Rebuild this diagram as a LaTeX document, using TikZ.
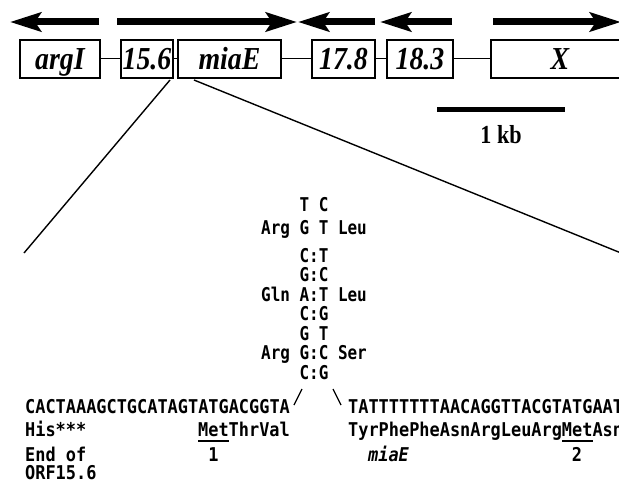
\documentclass[tikz,border=0pt]{standalone}
\usepackage{fontspec}
\usepackage{graphicx}
\setmainfont{Liberation Serif}
\newfontfamily\seqfont{DejaVu Sans Mono}
\usetikzlibrary{arrows.meta}
\newcommand\genefont{\fontsize{32}{32}\selectfont\bfseries\itshape}
\newcommand\glabel[1]{\scalebox{0.87}[1]{#1}}
\newcommand\sq[1]{\scalebox{0.89}[1]{#1}}
\newcommand\st[1]{\scalebox{0.84}[1]{#1}}
\begin{document}
\begin{tikzpicture}[x=1pt,y=-1pt,
  genebox/.style={draw, line width=1.3pt, minimum height=38pt, inner sep=0pt,
                  text height=24pt, text depth=2pt, font=\genefont},
  link/.style={line width=1pt},
  orf/.style={line width=7pt, -{Stealth[length=31pt,width=19pt,inset=6pt]}},
  zoomline/.style={line width=1.4pt},
  seqtxt/.style={anchor=base west, inner sep=0pt, font=\seqfont\fontsize{19}{19}\selectfont\bfseries},
  stemtxt/.style={anchor=base, inner sep=0pt, font=\seqfont\fontsize{19}{19}\selectfont\bfseries},
  slash/.style={line width=1.3pt},
  uline/.style={line width=1.8pt},
]
\clip (0,0) rectangle (619,487);
\fill[white] (0,0) rectangle (619,487);

% ORF arrows
\draw[orf] (99,22) -- (10,22);
\draw[orf] (117,22) -- (297,22);
\draw[orf] (375,22) -- (298,22);
\draw[orf] (452,22) -- (380,22);
\draw[orf] (493,22) -- (621,22);

% gene boxes
\node[genebox, minimum width=80pt]  (argI) at (60,59)    {\glabel{argI}};
\node[genebox, minimum width=52pt]  (b156) at (147,59)   {\glabel{15.6}};
\node[genebox, minimum width=103pt] (miaE) at (229.5,59) {\glabel{miaE}};
\node[genebox, minimum width=63pt]  (b178) at (343.5,59) {\glabel{17.8}};
\node[genebox, minimum width=66pt]  (b183) at (420,59)   {\glabel{18.3}};
\node[genebox, minimum width=138pt] (geneX) at (560,59)  {\glabel{X}};

\draw[link] (argI.east) -- (b156.west);
\draw[link] (b156.east) -- (miaE.west);
\draw[link] (miaE.east) -- (b178.west);
\draw[link] (b178.east) -- (b183.west);
\draw[link] (b183.east) -- (geneX.west);

% scale bar
\coordinate (sbL) at (437,110);
\coordinate (sbR) at (565,110);
\draw[line width=5pt] (sbL) -- (sbR);
\node[anchor=base, inner sep=0pt, font=\fontsize{26}{26}\selectfont\bfseries] (kb) at (501,143) {\scalebox{0.85}[1]{1 kb}};

% zoom lines
\coordinate (zA) at (170,80);
\coordinate (zAend) at (24,253);
\coordinate (zB) at (194,80);
\coordinate (zBend) at (621,253);
\draw[zoomline] (zA) -- (zAend);
\draw[zoomline] (zB) -- (zBend);

% stem-loop
\node[stemtxt] (r0) at (314,211) {\st{T C}};
\node[stemtxt] (r1) at (314,234) {\st{Arg G T Leu}};
\node[stemtxt] (r2) at (314,262) {\st{C:T}};
\node[stemtxt] (r3) at (314,281) {\st{G:C}};
\node[stemtxt] (r4) at (314,301) {\st{Gln A:T Leu}};
\node[stemtxt] (r5) at (314,320) {\st{C:G}};
\node[stemtxt] (r6) at (314,340) {\st{G T}};
\node[stemtxt] (r7) at (314,359) {\st{Arg G:C Ser}};
\node[stemtxt] (r8) at (314,379) {\st{C:G}};

\coordinate (s1a) at (294,405);
\coordinate (s1b) at (302,389);
\coordinate (s2a) at (333,389);
\coordinate (s2b) at (341,405);
\draw[slash] (s1a) -- (s1b);
\draw[slash] (s2a) -- (s2b);

% sequences
\node[seqtxt] (seqA) at (25,413) {\sq{CACTAAAGCTGCATAGTATGACGGTA}};
\node[seqtxt] (seqB) at (348,413) {\sq{TATTTTTTTAACAGGTTACGTATGAAT}};
\node[seqtxt] (his) at (25,436) {\sq{His***}};
\node[seqtxt] (aaA) at (198,436) {\sq{MetThrVal}};
\node[seqtxt] (aaB) at (348,436) {\sq{TyrPhePheAsnArgLeuArgMetAsn}};
\node[seqtxt] (endof) at (25,461) {\sq{End of}};
\node[seqtxt] (orf) at (25,479) {\sq{ORF15.6}};
\node[seqtxt, font=\seqfont\fontsize{19}{19}\selectfont\bfseries\itshape] (miaElbl) at (368,461) {\sq{miaE}};
\node[seqtxt, anchor=base] (one) at (213.5,461) {\sq{1}};
\node[seqtxt, anchor=base] (two) at (577,461) {\sq{2}};

\coordinate (u1a) at (198,441);
\coordinate (u1b) at (229,441);
\coordinate (u2a) at (562,441);
\coordinate (u2b) at (593,441);
\draw[uline] (u1a) -- (u1b);
\draw[uline] (u2a) -- (u2b);
\end{tikzpicture}
\end{document}
